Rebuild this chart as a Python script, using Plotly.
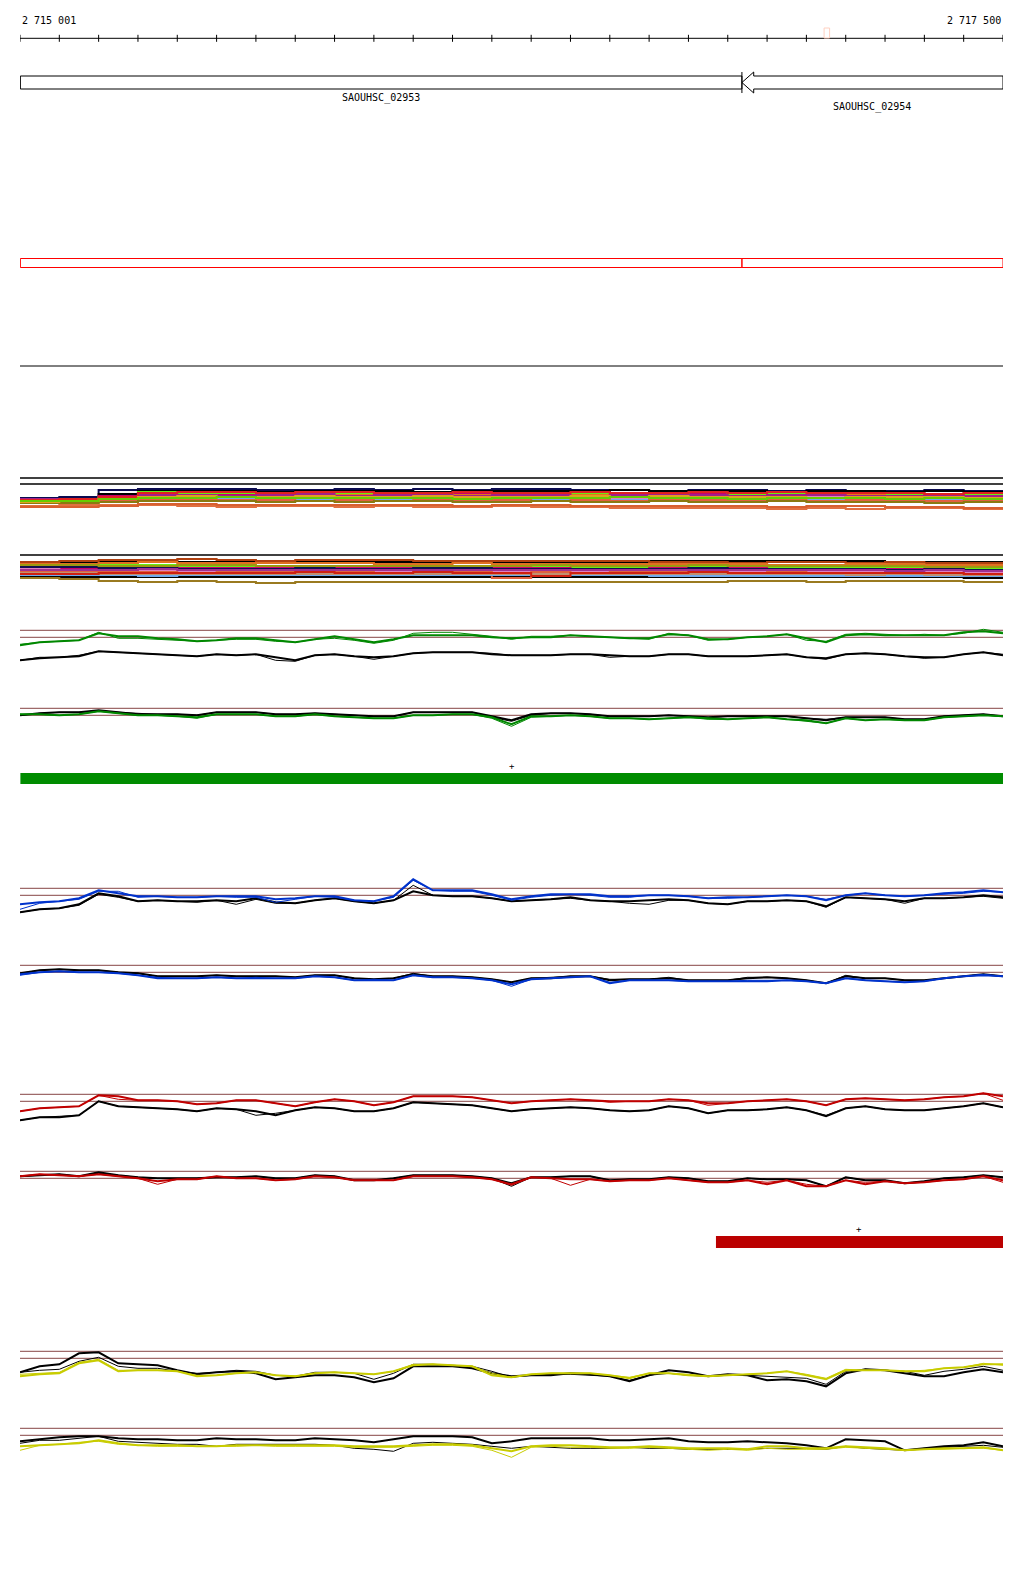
import plotly.graph_objects as go

# ---------------- data ----------------
X_START, X_END = 2715000, 2717500
RULER_TICKS = list(range(2715000, 2717501, 100))
RULER_LABEL_LEFT = "2 715 001"
RULER_LABEL_RIGHT = "2 717 500"
CURSOR_POS = 2717052

GENE_NAMES = ["SAOUHSC_02953", "SAOUHSC_02954"]
GENE_START = [2715001, 2716836]
GENE_END = [2716836, 2717500]
GENE_STRAND = ["+", "-"]

GREEN_BAR = [2715001, 2717500]
RED_BAR = [2716770, 2717500]
BAR_STRAND = "+"

POS100 = list(range(2715000, 2717501, 100))
POS50 = list(range(2715000, 2717501, 50))

# multi-sample tracks (step lines, 100 bp bins)
TRACK_A_REF = [34, 28]
TRACK_A_COLORS = ["#0a0a50", "#000000", "#c8006e", "#66ee11", "#9a9a10", "#e07818",
                  "#e080c0", "#70aaee", "#e06040", "#8a7a10", "#a0208a", "#e07040",
                  "#d86030", "#e02020", "#e0a020", "#66cc00"]
TRACK_A_VALUES = [
    [14, 15, 22, 23, 23, 23, 22, 22, 23, 22, 23, 22, 23, 23, 22, 22, 21, 22, 22, 21, 22, 21, 21, 22, 21, 20],
    [13, 13, 18, 21, 21, 21, 20, 21, 21, 21, 20, 21, 21, 21, 21, 22, 21, 21, 21, 20, 21, 21, 20, 21, 20, 21],
    [12, 12, 16, 19, 18, 18, 18, 18, 19, 17, 18, 18, 19, 18, 18, 18, 19, 18, 18, 17, 18, 18, 18, 17, 17, 18],
    [11, 12, 15, 20, 19, 19, 18, 19, 18, 19, 18, 17, 18, 19, 18, 17, 18, 17, 18, 19, 18, 17, 18, 18, 17, 19],
    [10, 11, 13, 16, 16, 16, 16, 15, 16, 16, 15, 16, 16, 15, 16, 16, 15, 16, 16, 15, 16, 15, 16, 15, 15, 16],
    [11, 11, 14, 17, 17, 16, 17, 16, 17, 17, 16, 17, 16, 16, 17, 16, 17, 16, 16, 17, 16, 17, 16, 16, 15, 15],
    [10, 10, 12, 15, 14, 15, 14, 14, 15, 14, 14, 15, 14, 15, 14, 14, 15, 14, 14, 14, 15, 14, 14, 13, 14, 14],
    [12, 12, 12, 13, 13, 13, 13, 13, 12, 13, 13, 13, 13, 13, 12, 12, 13, 13, 12, 13, 12, 13, 12, 12, 13, 13],
    [9, 9, 11, 13, 12, 12, 12, 11, 12, 11, 12, 12, 12, 11, 12, 11, 12, 12, 11, 12, 11, 12, 11, 11, 11, 12],
    [9, 9, 10, 11, 11, 11, 10, 11, 10, 11, 11, 10, 10, 11, 10, 10, 11, 10, 10, 11, 10, 10, 10, 9, 10, 10],
    [13, 13, 14, 17, 17, 16, 17, 18, 16, 17, 17, 16, 17, 17, 16, 17, 18, 17, 16, 17, 17, 16, 16, 17, 16, 16],
    [6, 7, 7, 7, 6, 5, 6, 6, 5, 6, 5, 5, 6, 5, 5, 4, 4, 4, 4, 3, 4, 3, 4, 4, 3, 4],
    [5, 5, 6, 8, 8, 7, 7, 7, 7, 7, 7, 6, 7, 7, 6, 6, 6, 6, 6, 5, 6, 6, 5, 5, 4, 4],
    [12, 13, 15, 19, 20, 20, 19, 20, 20, 19, 19, 20, 19, 19, 20, 19, 19, 20, 19, 20, 19, 19, 19, 18, 19, 19],
    [10, 11, 13, 15, 16, 15, 15, 16, 15, 15, 16, 15, 15, 15, 16, 15, 16, 15, 15, 15, 14, 15, 15, 15, 14, 14],
    [11, 11, 13, 14, 14, 15, 14, 14, 14, 14, 14, 13, 14, 14, 14, 15, 14, 14, 13, 14, 14, 14, 13, 14, 13, 13],
]

TRACK_B_REF = [33]
TRACK_B_COLORS = ["#000000", "#000000", "#9a7a20", "#b04010", "#e07020", "#66ee11",
                  "#c8006e", "#101050", "#e080c0", "#e06040", "#9a9a10", "#70aaee",
                  "#c09070", "#a03090", "#d02010"]
TRACK_B_VALUES = [
    [26, 26, 27, 27, 26, 26, 26, 26, 26, 26, 26, 26, 26, 26, 26, 26, 27, 27, 27, 27, 27, 27, 26, 26, 26, 25],
    [11, 11, 11, 11, 11, 11, 11, 11, 11, 11, 11, 11, 11, 11, 11, 11, 11, 11, 11, 11, 11, 11, 11, 11, 10, 10],
    [10, 9, 7, 6, 7, 6, 5, 6, 6, 6, 6, 6, 6, 6, 6, 6, 6, 6, 7, 7, 6, 7, 7, 7, 6, 5],
    [26, 27, 28, 28, 29, 28, 27, 28, 28, 28, 27, 27, 27, 27, 27, 27, 26, 26, 25, 26, 26, 25, 26, 25, 25, 25],
    [24, 24, 25, 26, 25, 25, 25, 25, 25, 24, 24, 25, 24, 24, 24, 24, 24, 24, 24, 23, 23, 24, 24, 23, 23, 22],
    [22, 22, 23, 23, 22, 22, 21, 21, 22, 21, 21, 21, 22, 21, 21, 21, 22, 22, 21, 21, 21, 21, 21, 21, 20, 20],
    [20, 20, 21, 21, 20, 20, 20, 20, 20, 20, 20, 19, 20, 20, 19, 19, 20, 20, 20, 19, 19, 19, 19, 19, 18, 18],
    [21, 21, 20, 20, 19, 19, 19, 20, 19, 19, 20, 20, 19, 19, 19, 19, 19, 20, 19, 19, 19, 19, 18, 19, 18, 17],
    [19, 18, 18, 18, 17, 17, 17, 17, 18, 17, 17, 17, 17, 17, 17, 17, 17, 17, 17, 17, 17, 16, 17, 16, 16, 15],
    [17, 17, 16, 16, 15, 16, 16, 15, 16, 15, 15, 16, 10, 16, 15, 16, 16, 15, 15, 16, 15, 15, 15, 15, 14, 13],
    [23, 23, 22, 22, 23, 23, 22, 22, 22, 22, 22, 22, 22, 23, 22, 22, 22, 23, 22, 22, 22, 22, 22, 21, 21, 21],
    [13, 13, 13, 12, 13, 13, 13, 13, 13, 13, 13, 13, 13, 13, 13, 13, 12, 12, 12, 12, 12, 12, 12, 12, 12, 11],
    [15, 15, 14, 14, 14, 14, 14, 14, 14, 14, 14, 14, 14, 14, 14, 14, 14, 14, 14, 14, 14, 13, 14, 13, 13, 12],
    [18, 18, 18, 19, 18, 18, 18, 18, 18, 18, 18, 18, 18, 18, 18, 18, 18, 18, 18, 18, 18, 18, 17, 18, 17, 16],
    [14, 14, 15, 15, 15, 15, 15, 16, 15, 15, 16, 15, 15, 12, 15, 15, 15, 16, 15, 15, 15, 15, 15, 15, 14, 13],
]

# coverage-ratio panels (50 bp bins); two reference levels per panel
REF_LEVELS = [0, 7]

GREEN_UP_C1 = [-8, -5, -4, -3, 4, 1, 1, -1, -2, -4,
               -3, -1, -1, -3, -5, -2, 1, -2, -5, -2,
               2, 2, 2, 2, 0, -1, 0, 0, 2, 1,
               0, -1, -1, 3, 2, -2, -2, 0, 1, 3,
               -1, -5, 2, 3, 2, 2, 2, 2, 5, 6, 4]
GREEN_UP_C2 = [-7, -5, -4, -3, 5, -1, -1, -2, -3, -4,
               -3, -2, -2, -4, -5, -2, -1, -3, -6, -3,
               4, 5, 5, 3, 1, -2, 1, 1, 2, 1,
               0, -1, -2, 4, 2, -3, -2, 0, 1, 3,
               -3, -4, 3, 4, 3, 2, 3, 2, 4, 8, 5]
GREEN_UP_K1 = [-23, -21, -20, -19, -14, -15, -16, -17, -18, -19,
               -17, -18, -17, -20, -23, -18, -17, -19, -20, -19,
               -16, -15, -15, -15, -17, -18, -18, -18, -17, -17,
               -18, -19, -19, -17, -17, -19, -19, -19, -18, -17,
               -20, -21, -17, -16, -17, -19, -20, -20, -17, -15, -18]
GREEN_UP_K2 = [-23, -20, -20, -18, -14, -15, -16, -17, -18, -19,
               -17, -18, -17, -23, -24, -18, -17, -19, -22, -19,
               -16, -15, -15, -15, -16, -18, -18, -18, -17, -17,
               -20, -19, -19, -17, -17, -19, -19, -19, -18, -17,
               -20, -22, -17, -16, -17, -19, -21, -20, -17, -15, -17]

GREEN_LO_C1 = [1, 1, 0, 1, 4, 2, 0, 0, -1, -2,
               1, 1, 1, -1, -1, 1, -1, -2, -3, -3,
               0, 0, 1, 1, -2, -9, -1, -1, 0, -1,
               -3, -3, -4, -3, -2, -3, -4, -3, -2, -4,
               -5, -8, -3, -5, -4, -5, -5, -2, -1, 0, -1]
GREEN_LO_C2 = [1, 1, 0, 1, 4, 2, 0, 0, -1, -3,
               1, 1, 1, -1, -1, 1, -1, -2, -3, -3,
               0, 0, 1, 1, -3, -11, -2, -1, 0, -1,
               -3, -3, -4, -3, -2, -4, -4, -3, -2, -4,
               -6, -8, -3, -5, -4, -5, -5, -2, -1, 0, -1]
GREEN_LO_K1 = [0, 2, 3, 3, 5, 3, 1, 1, 1, 0,
               3, 3, 3, 1, 1, 2, 1, 0, -1, -1,
               3, 3, 3, 3, -1, -5, 1, 2, 2, 1,
               -1, -1, -1, 0, -1, -2, -1, -1, -1, -1,
               -3, -5, -2, -2, -2, -4, -4, -1, 0, 1, -1]
GREEN_LO_K2 = [0, 2, 3, 3, 4, 3, 2, 1, 1, 0,
               3, 3, 3, 1, 1, 2, 1, 0, -1, -1,
               3, 3, 3, 3, -2, -6, 0, 2, 2, 1,
               -1, -1, -1, 0, -1, -2, -1, -1, -1, -1,
               -3, -4, -2, -2, -2, -4, -4, -1, 0, 1, -1]

BLUE_UP_C1 = [-9, -7, -6, -3, 5, 2, -1, -1, -2, -2,
              -1, -1, -1, -4, -3, -1, -1, -5, -6, -1,
              16, 5, 5, 5, 1, -4, -1, 1, 1, 1,
              -1, -1, 0, 0, -1, -3, -2, -2, -1, 0,
              -1, -5, 0, 2, 0, -1, 0, 2, 3, 5, 3]
BLUE_UP_C2 = [-14, -8, -6, -4, 4, 4, -2, -1, -2, -2,
              -1, -2, -2, -7, -4, -1, -2, -5, -6, -2,
              15, 5, 4, 4, 0, -5, -2, 0, 1, 0,
              -2, -2, 0, 0, -1, -3, -3, -2, -1, 0,
              -1, -4, 0, 2, 0, -1, 0, 1, 2, 4, 3]
BLUE_UP_K1 = [-17, -14, -13, -9, 2, -1, -6, -5, -6, -6,
              -5, -6, -3, -7, -8, -5, -3, -6, -8, -5,
              4, 0, -1, -1, -3, -6, -5, -4, -2, -5,
              -6, -6, -5, -4, -5, -8, -9, -6, -6, -5,
              -6, -11, -2, -3, -4, -6, -3, -3, -2, 0, -2]
BLUE_UP_K2 = [-17, -14, -13, -10, 1, -2, -6, -5, -6, -7,
              -5, -9, -4, -8, -8, -5, -3, -6, -8, -5,
              10, 0, -1, -1, -3, -6, -5, -4, -3, -5,
              -6, -8, -9, -5, -5, -8, -9, -6, -6, -5,
              -6, -12, -2, -3, -4, -8, -3, -3, -2, -1, -3]

BLUE_LO_C1 = [-2, 0, 1, 0, 0, -1, -3, -6, -6, -6,
              -5, -6, -6, -6, -6, -4, -5, -8, -8, -8,
              -3, -5, -5, -6, -8, -12, -7, -6, -5, -4,
              -11, -8, -8, -8, -9, -9, -9, -9, -9, -8,
              -9, -11, -6, -8, -9, -10, -9, -6, -4, -3, -4]
BLUE_LO_C2 = [-3, 0, 1, 0, 0, -1, -3, -5, -6, -6,
              -5, -6, -5, -6, -6, -4, -5, -8, -7, -8,
              -3, -5, -5, -6, -8, -14, -7, -6, -5, -4,
              -10, -8, -8, -8, -9, -9, -9, -8, -8, -8,
              -9, -11, -6, -8, -9, -10, -9, -6, -4, -2, -4]
BLUE_LO_K1 = [-1, 2, 3, 2, 2, 0, -1, -4, -4, -4,
              -3, -4, -4, -4, -5, -3, -3, -6, -7, -6,
              -2, -4, -4, -5, -7, -10, -6, -6, -4, -4,
              -8, -7, -7, -6, -8, -8, -8, -6, -5, -6,
              -8, -11, -4, -6, -6, -8, -8, -6, -4, -2, -4]
BLUE_LO_K2 = [-1, 2, 3, 2, 2, 0, -1, -4, -4, -4,
              -3, -4, -4, -4, -5, -3, -3, -6, -7, -6,
              -1, -4, -4, -5, -7, -10, -6, -5, -4, -4,
              -7, -7, -7, -5, -8, -8, -8, -5, -5, -6,
              -8, -11, -3, -6, -6, -8, -8, -6, -4, -2, -4]

RED_UP_C1 = [-10, -7, -6, -5, 6, 5, 1, 1, 0, -3,
             -2, 1, 1, -2, -5, -1, 2, 0, -4, -1,
             5, 5, 5, 4, 1, -2, 0, 1, 2, 1,
             0, 0, 0, 2, 1, -2, -2, 0, 1, 2,
             0, -4, 2, 3, 2, 1, 2, 4, 5, 8, 5]
RED_UP_C2 = [-10, -7, -6, -5, 6, 2, 1, 1, 0, -3,
             -2, 1, 1, -2, -5, -1, 2, 0, -4, -1,
             5, 5, 5, 4, 1, -2, 0, 1, 2, 1,
             -1, 0, 0, 2, 1, -4, -2, 0, 1, 2,
             0, -4, 2, 3, 2, 1, 2, 4, 5, 8, 1]
RED_UP_K1 = [-19, -16, -16, -14, 0, -5, -6, -7, -8, -10,
             -7, -8, -10, -14, -9, -6, -7, -10, -10, -7,
             -1, -2, -3, -4, -7, -10, -8, -7, -6, -7,
             -9, -10, -9, -5, -7, -12, -9, -9, -8, -6,
             -9, -15, -7, -5, -8, -9, -9, -7, -5, -2, -6]
RED_UP_K2 = [-19, -16, -15, -14, 0, -5, -6, -7, -8, -10,
             -7, -8, -14, -12, -9, -6, -7, -10, -10, -7,
             -1, -2, -3, -4, -7, -10, -8, -7, -6, -7,
             -9, -10, -9, -5, -7, -12, -9, -9, -8, -6,
             -9, -14, -7, -5, -8, -9, -9, -7, -5, -2, -6]

RED_LO_C1 = [2, 4, 3, 2, 4, 2, 0, -3, -1, -1,
             2, 0, 0, -2, -1, 2, 1, -2, -2, -2,
             2, 2, 2, 1, -1, -6, 1, 0, -1, -1,
             -3, -2, -2, 0, -2, -4, -4, -2, -6, -2,
             -8, -8, -2, -6, -3, -5, -4, -2, -1, 2, -2]
RED_LO_C2 = [2, 4, 3, 2, 4, 2, 0, -6, -1, -1,
             2, 0, 0, -2, -1, 2, 1, -2, -2, -2,
             2, 2, 2, 1, -1, -7, 1, 0, -7, -1,
             -3, -2, -2, 0, -2, -4, -4, -2, -4, -2,
             -6, -8, -2, -4, -3, -5, -4, -2, -1, 2, -4]
RED_LO_K1 = [2, 3, 4, 2, 6, 3, 1, 0, 0, 0,
             1, 1, 2, 0, 0, 3, 2, -2, -2, 0,
             3, 3, 3, 2, 0, -5, 1, 1, 2, 2,
             -2, -1, -1, 1, 0, -3, -3, 0, -1, -1,
             -2, -8, 1, -2, -2, -5, -3, 0, 1, 3, 1]
RED_LO_K2 = [2, 3, 4, 2, 5, 3, 1, 0, 0, 0,
             1, 1, 2, 0, 0, 3, 2, -2, -2, 0,
             3, 3, 3, 2, 0, -8, 1, 1, 2, 2,
             -2, -1, -1, 1, 0, -3, -3, 0, -1, -1,
             -2, -8, 1, -2, -2, -5, -3, 0, 1, 3, 1]

YELLOW_UP_C1 = [-18, -16, -15, -5, -2, -13, -12, -12, -13, -18,
                -17, -15, -14, -17, -18, -15, -14, -15, -16, -13,
                -7, -6, -7, -8, -17, -19, -16, -15, -15, -15,
                -17, -20, -15, -15, -17, -18, -17, -16, -15, -13,
                -17, -21, -12, -12, -12, -13, -13, -10, -9, -6, -6]
YELLOW_UP_C2 = [-16, -15, -14, -4, -1, -12, -12, -12, -13, -17,
                -17, -15, -14, -17, -18, -15, -14, -15, -16, -13,
                -6, -6, -7, -8, -15, -19, -16, -15, -15, -15,
                -17, -19, -15, -15, -16, -18, -17, -16, -15, -13,
                -16, -20, -11, -12, -12, -13, -12, -10, -9, -5, -7]
YELLOW_UP_K1 = [-14, -8, -6, 5, 6, -5, -6, -7, -12, -16,
                -14, -13, -15, -21, -19, -17, -17, -19, -24, -20,
                -8, -8, -8, -10, -15, -18, -17, -17, -15, -16,
                -18, -23, -17, -12, -14, -18, -16, -17, -22, -21,
                -23, -28, -15, -11, -12, -15, -18, -18, -14, -11, -14]
YELLOW_UP_K2 = [-14, -12, -11, -3, 1, -8, -10, -10, -13, -15,
                -14, -12, -13, -17, -18, -14, -14, -15, -21, -15,
                -6, -6, -7, -8, -13, -19, -17, -16, -16, -17,
                -18, -22, -17, -15, -17, -18, -17, -17, -18, -19,
                -20, -26, -13, -11, -12, -13, -17, -13, -11, -8, -12]

YELLOW_LO_C1 = [-11, -10, -9, -8, -5, -8, -10, -10, -10, -11,
                -11, -10, -10, -10, -10, -10, -10, -11, -11, -11,
                -10, -9, -9, -10, -13, -16, -11, -10, -10, -11,
                -12, -12, -11, -12, -13, -13, -13, -14, -11, -11,
                -13, -13, -11, -12, -13, -15, -14, -13, -13, -12, -15]
YELLOW_LO_C2 = [-15, -10, -9, -7, -6, -9, -10, -11, -11, -11,
                -11, -11, -10, -11, -11, -11, -11, -12, -12, -12,
                -11, -10, -10, -11, -15, -22, -12, -11, -12, -12,
                -13, -13, -12, -13, -14, -15, -14, -15, -13, -14,
                -14, -14, -12, -13, -14, -15, -14, -14, -13, -13, -15]
YELLOW_LO_K1 = [-6, -4, -2, -1, -1, -3, -4, -4, -5, -5,
                -3, -4, -4, -5, -5, -3, -4, -5, -7, -4,
                -1, -1, -1, -2, -8, -6, -3, -3, -3, -3,
                -5, -5, -4, -3, -6, -7, -7, -6, -7, -8,
                -10, -13, -4, -5, -6, -15, -13, -11, -10, -7, -11]
YELLOW_LO_K2 = [-8, -5, -5, -3, -1, -6, -7, -8, -9, -9,
                -11, -9, -9, -9, -9, -9, -10, -13, -14, -16,
                -8, -7, -8, -9, -11, -13, -11, -12, -13, -13,
                -13, -12, -13, -13, -14, -14, -14, -14, -13, -13,
                -13, -14, -11, -13, -14, -15, -13, -12, -11, -10, -12]

# ---------------- layout helpers ----------------
W, H = 1024, 1589
PAGE_OFFSET = 8          # default body margin of the html page
FONT = "DejaVu Sans Mono"
REF_COLOR = "#9e6a6a"


def py(px):
    return 1 - (px - PAGE_OFFSET) / H


fig = go.Figure()
yaxes = {}


def new_axis(base, lo, hi):
    n = len(yaxes) + 1
    key = "yaxis" if n == 1 else f"yaxis{n}"
    yaxes[key] = dict(domain=[max(0.0, py(base - lo)), min(1.0, py(base - hi))],
                      range=[lo, hi], visible=False, fixedrange=True)
    return "y" if n == 1 else f"y{n}"


def line(x, y, ax, color, width, shape="linear"):
    fig.add_trace(go.Scatter(x=x, y=y, yaxis=ax, mode="lines", hoverinfo="skip",
                             line=dict(color=color, width=width, shape=shape)))


# ruler
ax_r = new_axis(38.3, -10, 10)
line([X_START, X_END], [0, 0], ax_r, "black", 1)
fig.add_trace(go.Scatter(x=RULER_TICKS, y=[0] * len(RULER_TICKS), yaxis=ax_r, mode="markers",
                         hoverinfo="skip",
                         marker=dict(symbol="line-ns", size=5, line=dict(color="black", width=1))))
fig.add_shape(type="rect", xref="x", yref="paper", x0=CURSOR_POS - 7, x1=CURSOR_POS + 7,
              y0=py(38), y1=py(28), line=dict(color="#ffd0c0", width=1), fillcolor="white")
fig.add_annotation(x=X_START, y=py(20), xref="x", yref="paper", text=RULER_LABEL_LEFT,
                   showarrow=False, xanchor="left", yanchor="middle")
fig.add_annotation(x=X_END, y=py(20), xref="x", yref="paper", text=RULER_LABEL_RIGHT,
                   showarrow=False, xanchor="right", yanchor="middle")

# genes
G_TOP, G_BOT, G_OTOP, G_OBOT = py(76), py(89), py(72), py(93)
head = 30
for i, (s, e, st, name) in enumerate(zip(GENE_START, GENE_END, GENE_STRAND, GENE_NAMES)):
    if st == "+":
        path = f"M {s},{G_TOP} L {e},{G_TOP} L {e},{G_BOT} L {s},{G_BOT} Z"
    else:
        b = s + head
        path = (f"M {s},{(G_TOP + G_BOT) / 2} L {b},{G_OTOP} L {b},{G_TOP} L {e},{G_TOP} "
                f"L {e},{G_BOT} L {b},{G_BOT} L {b},{G_OBOT} Z")
        fig.add_shape(type="line", xref="x", yref="paper", x0=s, x1=s, y0=G_OBOT, y1=G_OTOP,
                      line=dict(color="black", width=1))
    fig.add_shape(type="path", xref="x", yref="paper", path=path,
                  line=dict(color="black", width=1))
    fig.add_annotation(x=(s + e) / 2, y=py(98 + 9 * (i % 2)), xref="x", yref="paper",
                       text=name, showarrow=False, xanchor="center", yanchor="middle")
    # red outlined region row
    fig.add_shape(type="rect", xref="x", yref="paper", x0=s, x1=e, y0=py(267.5), y1=py(258.5),
                  line=dict(color="#ff0000", width=1))

fig.add_shape(type="line", xref="x", yref="paper", x0=X_START, x1=X_END, y0=py(366), y1=py(366),
              line=dict(color="black", width=1))

# multi-sample tracks
for base, refs, colors, values in [(512, TRACK_A_REF, TRACK_A_COLORS, TRACK_A_VALUES),
                                   (588, TRACK_B_REF, TRACK_B_COLORS, TRACK_B_VALUES)]:
    ax = new_axis(base, -5, 40)
    for r in refs:
        line([X_START, X_END], [r, r], ax, "black", 1.4)
    for c, v in zip(colors, values):
        line(POS100, v, ax, c, 2, "hv")

# ratio panels
PANELS = [
    (637.3, "#008800", [GREEN_UP_K1, GREEN_UP_K2, GREEN_UP_C1, GREEN_UP_C2]),
    (715.3, "#008800", [GREEN_LO_K1, GREEN_LO_K2, GREEN_LO_C1, GREEN_LO_C2]),
    (895.3, "#0033cc", [BLUE_UP_K1, BLUE_UP_K2, BLUE_UP_C1, BLUE_UP_C2]),
    (972.3, "#0033cc", [BLUE_LO_K1, BLUE_LO_K2, BLUE_LO_C1, BLUE_LO_C2]),
    (1101.3, "#c00000", [RED_UP_K1, RED_UP_K2, RED_UP_C1, RED_UP_C2]),
    (1178.3, "#c00000", [RED_LO_K1, RED_LO_K2, RED_LO_C1, RED_LO_C2]),
    (1358.3, "#c8cc00", [YELLOW_UP_K1, YELLOW_UP_K2, YELLOW_UP_C1, YELLOW_UP_C2]),
    (1435.3, "#c8cc00", [YELLOW_LO_K1, YELLOW_LO_K2, YELLOW_LO_C1, YELLOW_LO_C2]),
]
for base, color, (k1, k2, c1, c2) in PANELS:
    ax = new_axis(base, -32, 20)
    for r in REF_LEVELS:
        line([X_START, X_END], [r, r], ax, REF_COLOR, 1.2)
    line(POS50, k1, ax, "black", 2)
    line(POS50, k2, ax, "black", 1)
    line(POS50, c1, ax, color, 2)
    line(POS50, c2, ax, color, 1)

# feature bars
for (s, e), color, top, bot in [(GREEN_BAR, "#008c00", 773, 784), (RED_BAR, "#bb0000", 1236, 1248)]:
    fig.add_shape(type="rect", xref="x", yref="paper", x0=s, x1=e, y0=py(bot), y1=py(top),
                  line=dict(width=0), fillcolor=color)
    fig.add_annotation(x=(s + e) / 2, y=py(top - 7), xref="x", yref="paper", text=BAR_STRAND,
                       showarrow=False, xanchor="center", yanchor="middle",
                       font=dict(size=9, color="black"))

fig.update_layout(
    width=W, height=H,
    margin=dict(l=20 - PAGE_OFFSET, r=W - 1003 + PAGE_OFFSET, t=0, b=0),
    paper_bgcolor="white", plot_bgcolor="white",
    showlegend=False,
    font=dict(family=FONT, size=10, color="black"),
    xaxis=dict(range=[X_START, X_END], visible=False, fixedrange=True),
    **yaxes,
)

fig.write_html("out.html", config={"displayModeBar": False})
